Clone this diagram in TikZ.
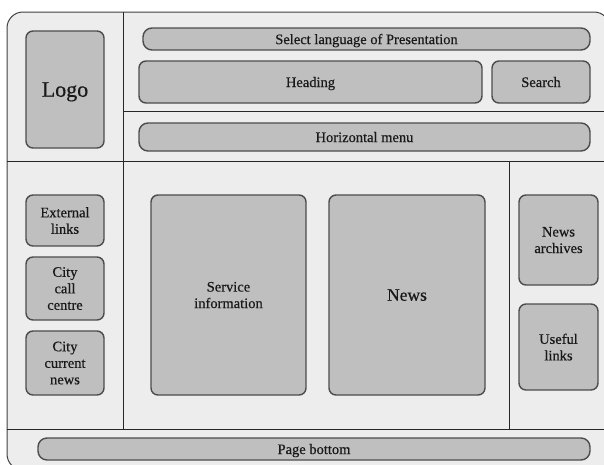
\documentclass[tikz,border=0pt]{standalone}
\usepackage{fontspec}
\setmainfont{Liberation Serif}[FakeBold=0.5]
\begin{document}
\begin{tikzpicture}[x=1pt,y=-1pt,
  frame/.style={draw=black!75, line width=1pt, fill=black!7},
  divider/.style={draw=black!85, line width=0.9pt},
  box/.style={draw=black!70, line width=1.4pt, fill=black!25, rounded corners=7pt,
    inner sep=2pt, align=center, text depth=0pt,
    font=\rmfamily\fontsize{14.5}{16.5}\selectfont, text=black!90},
  bar/.style={box, rounded corners=9pt}]
\useasboundingbox (0,0) rectangle (604,464);
\clip (0,0) rectangle (604,464);
% page frame
\draw[frame, rounded corners=16pt] (7,12) rectangle (610,470);
% layout dividers
\coordinate (vtop) at (123,12);
\coordinate (vbot) at (123,429);
\coordinate (hl) at (7,161);
\coordinate (hr) at (604,161);
\coordinate (ml) at (123,111);
\coordinate (mr) at (604,111);
\coordinate (bl) at (7,429);
\coordinate (br) at (604,429);
\coordinate (rt) at (509,161);
\coordinate (rb) at (509,429);
\draw[divider] (vtop) -- (vbot);
\draw[divider] (hl) -- (hr);
\draw[divider] (ml) -- (mr);
\draw[divider] (bl) -- (br);
\draw[divider] (rt) -- (rb);
% header
\node[box, minimum width=78, minimum height=117, font=\rmfamily\fontsize{22}{26}\selectfont] (logo) at (65,89.5) {Logo};
\node[bar, minimum width=447, minimum height=22] (lang) at (366.5,39) {Select language of Presentation};
\node[box, minimum width=343, minimum height=42] (heading) at (310.5,82) {Heading};
\node[box, minimum width=98, minimum height=42] (search) at (541,82) {Search};
\node[bar, minimum width=451, minimum height=28] (hmenu) at (364.5,137) {Horizontal menu};
% left column
\node[box, minimum width=78, minimum height=51] (ext) at (65,220.5) {External\\links};
\node[box, minimum width=78, minimum height=63] (call) at (65,288.5) {City\\call\\centre};
\node[box, minimum width=78, minimum height=64] (cnews) at (65,363) {City\\current\\news};
% main content
\node[box, minimum width=155, minimum height=200] (service) at (228.5,295) {Service\\information};
\node[box, minimum width=156, minimum height=200, font=\rmfamily\fontsize{17.5}{21}\selectfont] (news) at (407,295) {News};
% right column
\node[box, minimum width=79, minimum height=90] (archives) at (558.5,240) {News\\archives};
\node[box, minimum width=79, minimum height=86] (useful) at (558.5,347) {Useful\\links};
% footer
\node[bar, minimum width=552, minimum height=22] (bottom) at (314,449) {Page bottom};
\end{tikzpicture}
\end{document}
